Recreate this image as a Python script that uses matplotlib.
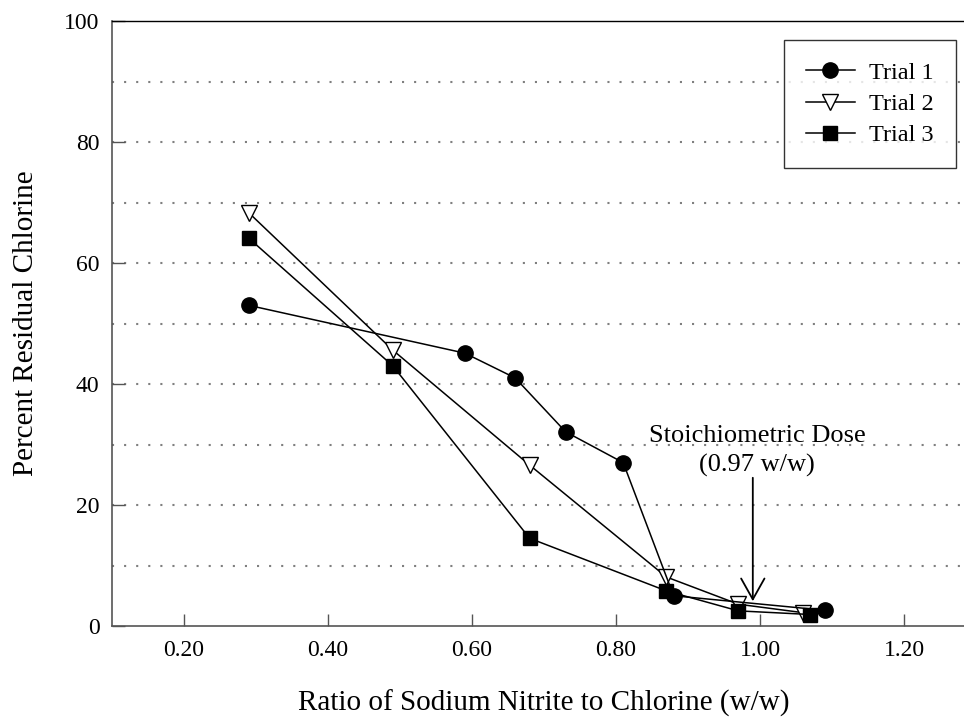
import matplotlib
matplotlib.use('Agg')
import matplotlib.pyplot as plt


# Values
trial1_x = [0.29, 0.59, 0.66, 0.73, 0.81, 0.88, 1.09]
trial1_y = [53.0, 45.1, 41.0, 32.1, 27.0, 5.0, 2.6]

trial2_x = [0.29, 0.49, 0.68, 0.87, 0.97, 1.06]
trial2_y = [68.3, 45.6, 26.6, 8.1, 3.6, 2.2]

trial3_x = [0.29, 0.49, 0.68, 0.87, 0.97, 1.07]
trial3_y = [64.1, 43.0, 14.5, 5.8, 2.5, 1.9]

x_ticks = [0.20, 0.40, 0.60, 0.80, 1.00, 1.20]
y_ticks = [0, 20, 40, 60, 80, 100]
grid_levels = [10, 20, 30, 40, 50, 60, 70, 80, 90]

series_labels = ['Trial 1', 'Trial 2', 'Trial 3']

note_lines = ['Stoichiometric Dose', '(0.97 w/w)']
arrow_tip = (0.99, 4.1)
arrow_tail = (0.99, 24.5)


def main():
    plt.rcParams['font.family'] = ['Liberation Serif', 'DejaVu Serif']

    fig = plt.figure(figsize=(9.64, 7.21), dpi=100)
    # axes runs a little past the right edge of the picture, like the original crop
    ax = fig.add_axes([112 / 964, 95 / 721, 864 / 964, 605 / 721])

    ax.set_xlim(0.10, 1.30)
    ax.set_ylim(0, 100)

    # Dotted horizontal grid
    for level in grid_levels:
        ax.axhline(level, color='#7f7f7f', lw=1.5, linestyle=(0, (1, 4.8)), zorder=0)

    line_kw = dict(color='black', lw=1.1)
    h2, = ax.plot(trial2_x, trial2_y, marker='v', ms=11, mfc='white', mec='black',
                  mew=1.0, zorder=2, **line_kw)
    h3, = ax.plot(trial3_x, trial3_y, marker='s', ms=9.5, mfc='black', mec='black',
                  zorder=3, **line_kw)
    h1, = ax.plot(trial1_x, trial1_y, marker='o', ms=11, mfc='black', mec='black',
                  zorder=4, **line_kw)

    # Annotation for the stoichiometric dose
    ax.text(0.997, 30.4, note_lines[0], ha='center', va='baseline', fontsize=19)
    ax.text(0.996, 25.6, note_lines[1], ha='center', va='baseline', fontsize=19)
    ax.annotate('', xy=arrow_tip, xytext=arrow_tail,
                arrowprops=dict(arrowstyle='->,head_length=0.75,head_width=0.42',
                                color='black', lw=1.3, mutation_scale=20,
                                shrinkA=0, shrinkB=0))

    ax.set_xticks(x_ticks)
    ax.set_xticklabels([f'{v:.2f}' for v in x_ticks])
    ax.set_yticks(y_ticks)
    ax.tick_params(axis='both', direction='in', length=9, width=1.0,
                   colors='#555555', labelcolor='black', labelsize=17)
    ax.tick_params(axis='x', pad=10)
    ax.tick_params(axis='y', pad=9)

    ax.spines['right'].set_visible(False)
    ax.spines['top'].set_color('black')
    ax.spines['top'].set_linewidth(1.0)
    for side in ['left', 'bottom']:
        ax.spines[side].set_color('#555555')
        ax.spines[side].set_linewidth(1.2)

    ax.set_xlabel('Ratio of Sodium Nitrite to Chlorine (w/w)', fontsize=21)
    ax.set_ylabel('Percent Residual Chlorine', fontsize=21)
    ax.xaxis.set_label_coords(432 / 864, -64 / 605)
    ax.yaxis.set_label_coords(-73 / 864, 0.5)

    leg = ax.legend([h1, h2, h3], series_labels, loc='upper right',
                    bbox_to_anchor=(956 / 964, 1 - 40 / 721), bbox_transform=fig.transFigure,
                    borderaxespad=0, fontsize=17.5, frameon=True, fancybox=False,
                    edgecolor='black', handlelength=2.0, handletextpad=0.6,
                    labelspacing=0.38, borderpad=0.9)
    leg.get_frame().set_linewidth(1.0)
    leg.set_zorder(5)

    fig.savefig('out.png', dpi=100, facecolor='white')


if __name__ == "__main__":
    main()
